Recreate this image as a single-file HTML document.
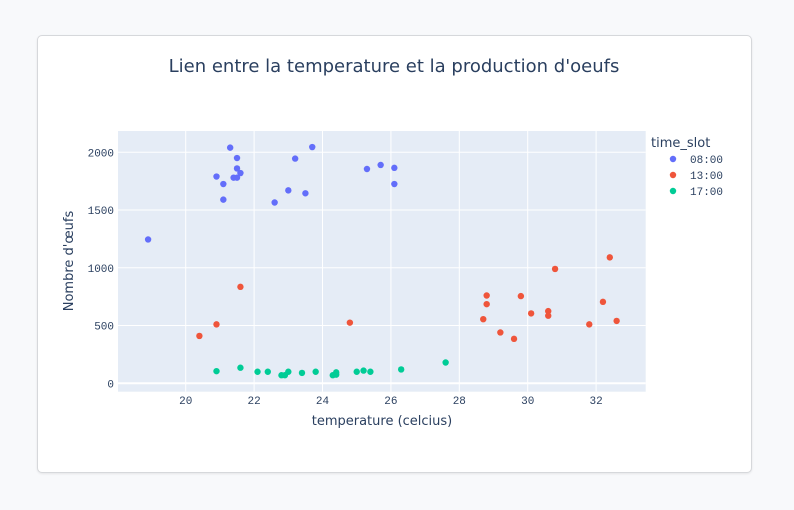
<!DOCTYPE html>
<html><head><meta charset="utf-8">
<style>
html,body{margin:0;padding:0;background:#f8f9fb;width:794px;height:510px;overflow:hidden;}
#card{position:absolute;left:37px;top:35px;width:713px;height:436px;background:#fff;border:1px solid #d6d8db;border-radius:5px;box-shadow:0 1px 2px rgba(0,0,0,0.08);}
svg{position:absolute;left:0;top:0;}
</style></head>
<body>
<div id="card"></div>
<svg id="chart" width="794" height="510"></svg>
<script>
const xTicks=[20,22,24,26,28,30,32];
const yTicks=[0,500,1000,1500,2000];
const seriesNames=["08:00","13:00","17:00"];
const seriesColors=["#636efa","#ef553b","#00cc96"];
const x0800=[18.9,20.9,21.1,21.1,21.3,21.5,21.5,21.4,21.5,21.6,22.6,23.0,23.2,23.5,23.7,25.3,25.7,26.1,26.1];
const y0800=[1245,1790,1725,1590,2040,1950,1860,1780,1780,1820,1565,1670,1945,1645,2045,1855,1890,1865,1725];
const x1300=[21.6,20.9,20.4,24.8,28.7,28.8,28.8,29.2,29.6,29.8,30.1,30.6,30.6,30.8,31.8,32.2,32.4,32.6];
const y1300=[835,510,410,525,555,685,760,440,385,755,605,625,585,990,510,705,1090,540];
const x1700=[20.9,21.6,22.1,22.4,22.8,22.9,23.0,23.4,23.8,24.3,24.4,24.4,25.0,25.2,25.4,26.3,27.6];
const y1700=[105,135,100,100,70,70,100,90,100,70,75,95,100,110,100,120,180];

const NS="http://www.w3.org/2000/svg";
const svg=document.getElementById('chart');
const L=118,R=645.7,T=131,B=391.7;
const xmin=18.02,xmax=33.45,ymin=-72.7,ymax=2184;
function sx(v){return L+(v-xmin)/(xmax-xmin)*(R-L);}
function sy(v){return B-(v-ymin)/(ymax-ymin)*(B-T);}
function mk(tag,attrs,parent){const e=document.createElementNS(NS,tag);for(const k in attrs)e.setAttribute(k,attrs[k]);(parent||svg).appendChild(e);return e;}
const mono='"Liberation Mono", monospace';
const sans='"DejaVu Sans", "Liberation Sans", sans-serif';

const bg=mk('rect',{x:L,y:T,width:R-L,height:B-T,fill:'#e5ecf6'});



xTicks.forEach(t=>{
  const g=mk('line',{x1:sx(t),x2:sx(t),y1:T,y2:B,stroke:'#fff','stroke-width':1});
  
  
  const lb=mk('text',{x:sx(t),y:404,'text-anchor':'middle','font-family':mono,'font-size':11,fill:'#2a3f5f'});
  lb.textContent=t;
  
  
});
yTicks.forEach(t=>{
  const g=mk('line',{x1:L,x2:R,y1:sy(t),y2:sy(t),stroke:'#fff','stroke-width':t===0?2:1});
  
  
  const lb=mk('text',{x:116-2,y:sy(t)+4,'text-anchor':'end','font-family':mono,'font-size':11,fill:'#2a3f5f'});
  lb.textContent=t;
  
  
});

const xs=[x0800,x1300,x1700], ys=[y0800,y1300,y1700];
xs.forEach((arr,s)=>{
  arr.forEach((v,i)=>{
    const c=mk('circle',{cx:sx(v),cy:sy(ys[s][i]),r:3.2,fill:seriesColors[s]});
    
    
  });
});

const title=mk('text',{x:394,y:72,'text-anchor':'middle','font-family':sans,'font-size':18,fill:'#2a3f5f'});
title.textContent="Lien entre la temperature et la production d'oeufs";



const xt=mk('text',{x:382,y:425,'text-anchor':'middle','font-family':sans,'font-size':13,fill:'#2a3f5f'});
xt.textContent='temperature (celcius)';



const yt=mk('text',{x:0,y:0,'text-anchor':'middle','font-family':sans,'font-size':13,fill:'#2a3f5f',transform:'translate(73,261) rotate(-90)'});
yt.textContent="Nombre d'œufs";



const lt=mk('text',{x:651,y:147,'font-family':sans,'font-size':13,fill:'#2a3f5f'});
lt.textContent='time_slot';


seriesNames.forEach((n,i)=>{
  const yy=159+i*16;
  const c=mk('circle',{cx:673,cy:yy,r:3.2,fill:seriesColors[i]});
  
  
  const t=mk('text',{x:690,y:yy+4,'font-family':mono,'font-size':11,fill:'#2a3f5f'});
  t.textContent=n;
  
  
});
</script>
</body></html>
